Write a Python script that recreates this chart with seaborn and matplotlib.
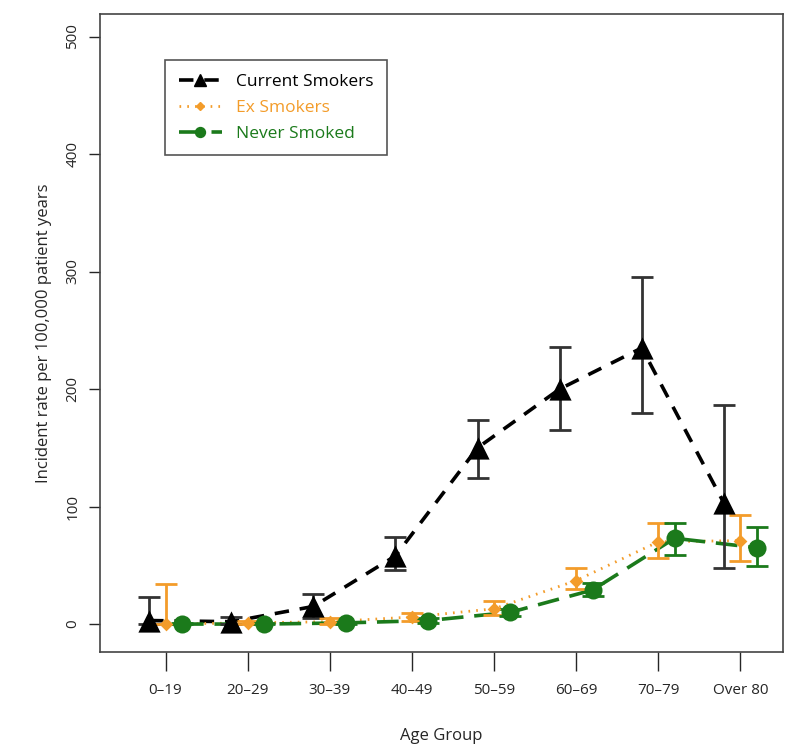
import numpy as np
import pandas as pd
import seaborn as sns
import matplotlib.pyplot as plt
from matplotlib.lines import Line2D

# incidence per 100,000 patient years
age_groups = ['0\u201319', '20\u201329', '30\u201339', '40\u201349', '50\u201359', '60\u201369', '70\u201379', 'Over 80']

current_rate = [3, 2, 15, 58, 150, 200, 235, 103]
current_low = [0, 0, 5, 46, 124, 165, 180, 48]
current_high = [23, 6, 26, 74, 174, 236, 295, 186]

ex_rate = [0, 1, 2, 6, 13, 37, 70, 71]
ex_low = [0, 0, 0, 3, 8, 30, 56, 54]
ex_high = [34, 3, 5, 9, 20, 48, 86, 93]

never_rate = [0, 0, 1, 3, 10, 29, 73, 65]
never_low = [0, 0, 0, 1, 7, 24, 59, 49]
never_high = [1, 1, 2, 5, 13, 35, 86, 83]

orange = '#f39c2a'
green = '#1b7a1b'

sns.set_style('ticks')
plt.rcParams['font.family'] = ['Open Sans', 'DejaVu Sans']

fig = plt.figure(figsize=(7.99, 7.48), dpi=100)
ax = fig.add_axes([0.125, 0.128, 0.855, 0.853])

pos = np.arange(1, len(age_groups) + 1)
series = [
    ('Current Smokers', current_rate, current_low, current_high, -0.2, 'black', '^', 16, (4, 3), 2.6),
    ('Ex Smokers', ex_rate, ex_low, ex_high, 0.0, orange, 'D', 7, (0.6, 2.2), 2.0),
    ('Never Smoked', never_rate, never_low, never_high, 0.2, green, 'o', 13, (6, 3), 2.6),
]

handles = []
for name, rate, low, high, shift, col, mk, ms, dash, lw in series:
    df = pd.DataFrame({'x': pos + shift, 'rate': rate})
    sns.lineplot(data=df, x='x', y='rate', ax=ax, color=col, lw=lw,
                 dashes=False, legend=False)
    ax.lines[-1].set_dashes(dash)
    rate = np.array(rate)
    yerr = [rate - np.array(low), np.array(high) - rate]
    ax.errorbar(df['x'], rate, yerr=yerr, fmt='none', ecolor=col if col != 'black' else '#333333',
                elinewidth=2, capsize=8, capthick=2, zorder=3)
    ax.scatter(df['x'], rate, marker=mk, s=ms ** 2, color=col, zorder=4, linewidths=0)
    h = Line2D([], [], color=col, lw=lw, marker=mk, markersize=ms * 0.55)
    h.set_dashes(dash)
    handles.append(h)

ax.set_xlim(0.2, 8.52)
ax.set_ylim(-24, 519)
ax.set_xticks(pos)
ax.set_xticklabels(age_groups, fontsize=11)
ax.set_yticks([0, 100, 200, 300, 400, 500])
ax.tick_params(axis='y', labelrotation=90, labelsize=11, length=8, width=1, pad=6)
ax.tick_params(axis='x', length=14, width=1, pad=8)
for t in ax.get_yticklabels():
    t.set_va('center')

for sp in ax.spines.values():
    sp.set_visible(True)
    sp.set_color('#444444')
    sp.set_linewidth(1.2)

ax.set_xlabel('Age Group', fontsize=12)
ax.xaxis.set_label_coords(0.5, -0.118)
ax.set_ylabel('Incident rate per 100,000 patient years', fontsize=12, labelpad=10)

leg = ax.legend(handles, [s[0] for s in series], loc='upper left',
                bbox_to_anchor=(0.095, 0.928), fontsize=12.5, fancybox=False,
                edgecolor='#555555', framealpha=1, handlelength=2.5,
                borderpad=0.8, labelspacing=0.55, borderaxespad=0,
                labelcolor=['black', orange, green])
leg.get_frame().set_linewidth(1.2)

fig.savefig('out.png', dpi=100)
